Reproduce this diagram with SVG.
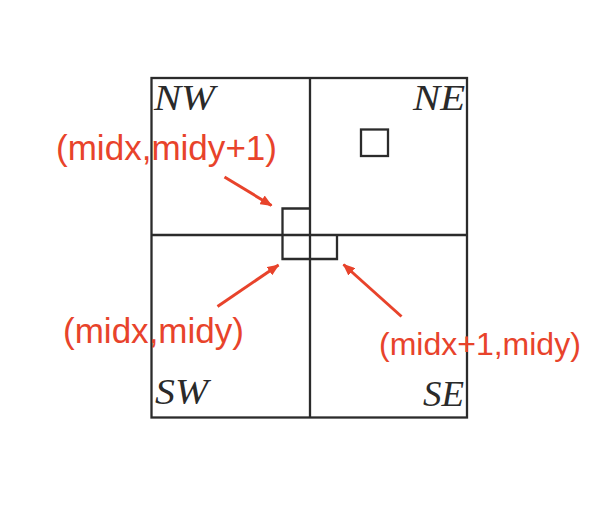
<svg xmlns="http://www.w3.org/2000/svg" width="594" height="520" viewBox="0 0 594 520">
<style>
.ln{fill:none;stroke:#2b2b2b;stroke-width:2.3}
.q{font-family:"Liberation Serif","Times New Roman",serif;font-style:italic;font-size:36px;fill:#2a2a2a}
.lbl{font-family:"Liberation Sans",Arial,sans-serif;font-size:35px;fill:#E8432B}
.arr{stroke:#E8432B;stroke-width:3;fill:none;marker-end:url(#ah)}
</style>
<defs>
<marker id="ah" viewBox="0 0 12 10" refX="11" refY="5" markerWidth="12" markerHeight="10" markerUnits="userSpaceOnUse" orient="auto">
<path d="M0,0 L12,5 L0,10 Z" fill="#E8432B"/>
</marker>
</defs>
<rect width="594" height="520" fill="#ffffff"/>
<g id="quadtree">
<rect class="ln" x="151.5" y="78" width="315.5" height="339.5" stroke-width="2.6"/>
<line class="ln" x1="310" y1="78" x2="310" y2="417.5" stroke-width="2.4"/>
<line class="ln" x1="151.5" y1="235" x2="467" y2="235" stroke-width="2.4"/>
</g>
<g id="label-NW"><text class="q" x="154" y="110" textLength="61" lengthAdjust="spacingAndGlyphs">NW</text></g>
<g id="label-NE"><text class="q" x="413" y="110" textLength="52" lengthAdjust="spacingAndGlyphs">NE</text></g>
<g id="label-SW"><text class="q" x="155" y="404" textLength="53" lengthAdjust="spacingAndGlyphs">SW</text></g>
<g id="label-SE"><text class="q" x="423" y="406" textLength="41" lengthAdjust="spacingAndGlyphs">SE</text></g>
<g id="ne-square"><rect class="ln" x="361" y="129.5" width="27" height="26.5"/></g>
<g id="cell-midx-midy1"><path class="ln" d="M310,208.5 H282.5 V235"/></g>
<g id="cell-midx-midy"><path class="ln" d="M282.5,235 V259 H310"/></g>
<g id="cell-midx1-midy"><path class="ln" d="M310,259 H337 V235"/></g>
<g id="connectors">
<line class="arr" x1="224.5" y1="177" x2="271.5" y2="205.5"/>
<line class="arr" x1="217.5" y1="306.5" x2="278.5" y2="265"/>
<line class="arr" x1="401.5" y1="316.5" x2="343.5" y2="264.5"/>
</g>
<g id="text-labels">
<text class="lbl" x="56" y="160" textLength="221" lengthAdjust="spacingAndGlyphs">(midx,midy+1)</text>
<text class="lbl" x="63" y="343" textLength="181" lengthAdjust="spacingAndGlyphs">(midx,midy)</text>
<text class="lbl" x="379" y="355" style="font-size:32px">(midx+1,midy)</text>
</g>
</svg>
